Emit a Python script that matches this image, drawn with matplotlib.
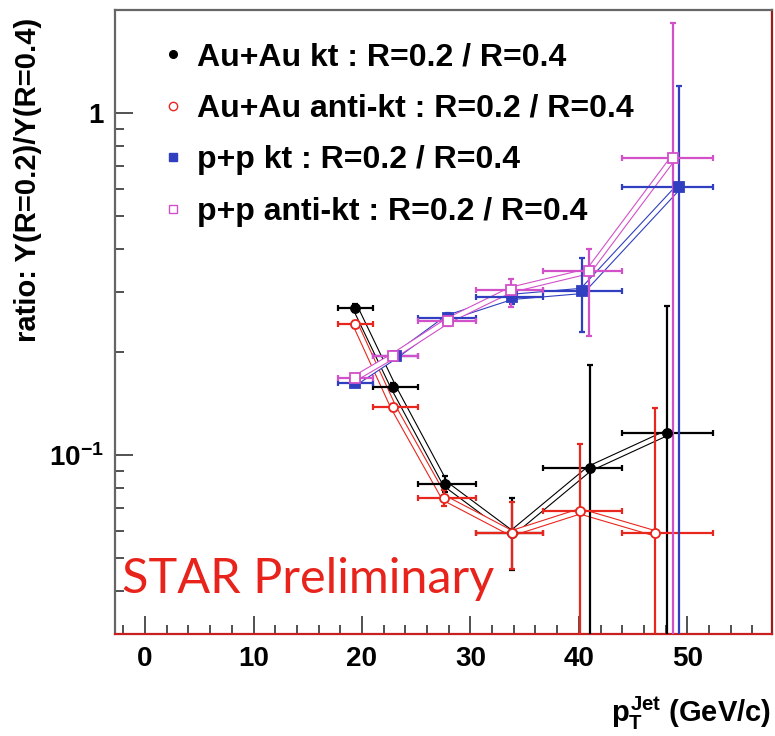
import numpy as np
import matplotlib
matplotlib.use("Agg")
import matplotlib.pyplot as plt
import matplotlib.patheffects as pe
from matplotlib.lines import Line2D
from matplotlib.ticker import FixedLocator, MultipleLocator, NullFormatter

plt.rcParams["font.family"] = ["Liberation Sans", "DejaVu Sans"]
plt.rcParams["font.weight"] = "bold"
plt.rcParams["mathtext.fontset"] = "custom"
plt.rcParams["mathtext.rm"] = "Liberation Sans:bold"
plt.rcParams["mathtext.it"] = "Liberation Sans:bold"
plt.rcParams["mathtext.bf"] = "Liberation Sans:bold"

# pT bins (GeV/c)
bin_lo = [17.8, 21.0, 25.2, 30.5, 36.7, 44.0]
bin_hi = [21.0, 25.2, 30.5, 36.7, 44.0, 52.4]

# Au+Au kt
auau_kt_x = [19.4, 22.9, 27.7, 33.8, 41.0, 48.1]
auau_kt_y = [0.269, 0.158, 0.0823, 0.0591, 0.0914, 0.116]
auau_kt_lo = [0.262, 0.154, 0.078, 0.046, 0.001, 0.001]
auau_kt_hi = [0.276, 0.162, 0.087, 0.075, 0.183, 0.273]

# Au+Au anti-kt
auau_akt_x = [19.4, 22.9, 27.6, 33.8, 40.1, 47.0]
auau_akt_y = [0.241, 0.138, 0.0749, 0.0591, 0.0685, 0.0591]
auau_akt_lo = [0.236, 0.135, 0.071, 0.0465, 0.001, 0.001]
auau_akt_hi = [0.246, 0.141, 0.079, 0.073, 0.108, 0.137]

# p+p kt
pp_kt_x = [19.4, 23.1, 27.9, 33.8, 40.3, 49.2]
pp_kt_y = [0.163, 0.195, 0.252, 0.290, 0.302, 0.608]
pp_kt_lo = [0.159, 0.190, 0.244, 0.276, 0.229, 0.001]
pp_kt_hi = [0.167, 0.200, 0.260, 0.305, 0.377, 1.20]

# p+p anti-kt
pp_akt_x = [19.4, 22.9, 27.9, 33.7, 40.9, 48.7]
pp_akt_y = [0.168, 0.195, 0.247, 0.304, 0.345, 0.739]
pp_akt_lo = [0.164, 0.190, 0.239, 0.271, 0.223, 0.001]
pp_akt_hi = [0.172, 0.200, 0.255, 0.327, 0.400, 1.83]

labels = ["Au+Au kt : R=0.2 / R=0.4",
          "Au+Au anti-kt : R=0.2 / R=0.4",
          "p+p kt : R=0.2 / R=0.4",
          "p+p anti-kt : R=0.2 / R=0.4"]

series = [
    (auau_kt_x, auau_kt_y, auau_kt_lo, auau_kt_hi, "#000000", "o", True),
    (auau_akt_x, auau_akt_y, auau_akt_lo, auau_akt_hi, "#e8261e", "o", False),
    (pp_kt_x, pp_kt_y, pp_kt_lo, pp_kt_hi, "#2f3fc0", "s", True),
    (pp_akt_x, pp_akt_y, pp_akt_lo, pp_akt_hi, "#d250c8", "s", False),
]

fig = plt.figure(figsize=(7.75, 7.36), dpi=100)
ax = fig.add_axes([0.148, 0.1386, 0.848, 0.8478])

handles = []
for x, y, lo, hi, col, mk, filled in series:
    x = np.array(x)
    y = np.array(y)
    xerr = [x - np.array(bin_lo), np.array(bin_hi) - x]
    yerr = [y - np.array(lo), np.array(hi) - y]
    # hollow "double" connecting line
    ax.plot(x, y, color=col, lw=0.8, zorder=2,
            path_effects=[pe.Stroke(linewidth=4.6, foreground=col),
                          pe.Stroke(linewidth=3.0, foreground="white")])
    ax.errorbar(x, y, xerr=xerr, yerr=yerr, fmt="none", ecolor=col,
                elinewidth=1.6, capsize=2, capthick=1.6, zorder=3)
    ax.plot(x, y, linestyle="none", marker=mk, markersize=6.5,
            markeredgecolor=col, markeredgewidth=1.3,
            markerfacecolor=col if filled else "white", zorder=4)
    handles.append(Line2D([], [], linestyle="none", marker=mk,
                          markersize=5.5 if filled else 6,
                          markeredgecolor=col, markeredgewidth=1,
                          markerfacecolor=col if filled else "white"))

ax.set_yscale("log")
ax.set_xlim(-2.8, 57.8)
ax.set_ylim(0.03, 2.0)

ax.xaxis.set_major_locator(MultipleLocator(10))
ax.xaxis.set_minor_locator(MultipleLocator(2))
ax.yaxis.set_major_locator(FixedLocator([0.1, 1]))
ax.set_yticklabels(["$10^{-1}$", "1"])
ax.yaxis.set_minor_locator(FixedLocator([0.04, 0.05, 0.06, 0.07, 0.08, 0.09,
                                         0.2, 0.3, 0.4, 0.5, 0.6, 0.7, 0.8, 0.9]))
ax.yaxis.set_minor_formatter(NullFormatter())

ax.tick_params(axis="both", which="both", direction="in", colors="#333333",
               labelcolor="black", labelsize=20, width=1.2)
ax.tick_params(axis="both", which="major", length=13)
ax.tick_params(axis="both", which="minor", length=6.5)
ax.tick_params(axis="x", which="major", pad=9)
ax.tick_params(axis="y", which="major", pad=8)

ax.spines["left"].set_color("#666666")
ax.spines["top"].set_color("#666666")
ax.spines["right"].set_color("#9b1b1b")
ax.spines["bottom"].set_color("#c8201e")
for s in ax.spines.values():
    s.set_linewidth(1.6)

ax.legend(handles, labels, loc="upper left", bbox_to_anchor=(163 / 775, 1 - 42 / 736),
          bbox_transform=fig.transFigure, frameon=False, fontsize=23,
          handlelength=0.6, handletextpad=0.45, labelspacing=0.68,
          borderpad=0, borderaxespad=0)

fig.text(0.036, 1 - 180 / 736, "ratio: Y(R=0.2)/Y(R=0.4)", rotation=90,
         ha="center", va="center", fontsize=21, fontweight="bold")
fig.text(771 / 775, 1 - 722 / 736, r"$p_{T}^{Jet}$ (GeV/c)", ha="right",
         va="baseline", fontsize=21, fontweight="bold")
ax.text(122 / 775, 1 - 593 / 736, "STAR Preliminary", transform=fig.transFigure,
        family="Lato", fontweight="normal", fontsize=35, color="#e8231b",
        ha="left", va="baseline")

fig.savefig("out.png", dpi=100)
